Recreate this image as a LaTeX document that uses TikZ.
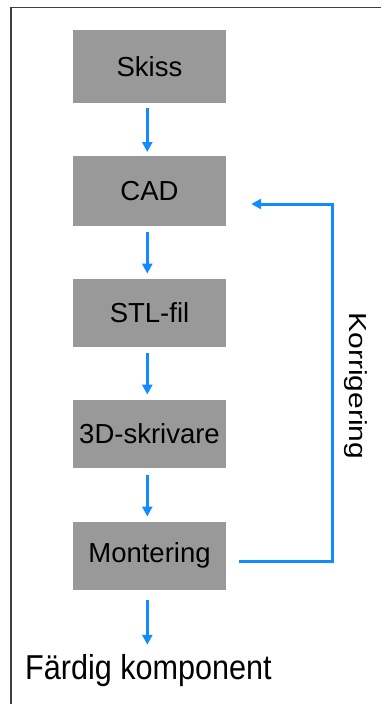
\documentclass[tikz,border=0pt]{standalone}
\usepackage{fontspec}
\setmainfont{Liberation Sans}
\usetikzlibrary{arrows.meta,calc}
\definecolor{flowblue}{RGB}{17,140,255}
\definecolor{boxgray}{RGB}{153,153,153}
\definecolor{framegray}{RGB}{64,64,64}
\begin{document}
\begin{tikzpicture}[x=1pt,y=-1pt,
  stepbox/.style={fill=boxgray,draw=none,minimum width=153pt,minimum height=68pt,inner sep=0pt,
    font=\fontsize{27.5}{30}\selectfont,text=black},
  flow/.style={draw=flowblue,line width=3pt,-{Triangle[length=10pt,width=10pt]}},
  fb/.style={draw=flowblue,line width=3pt}]
\useasboundingbox (0,0) rectangle (381,704);
\draw[framegray,line width=1.5pt] (11,704) -- (11,7.5) -- (381,7.5);
\node[stepbox,minimum height=72.7pt] (skiss) at (149.5,66.3) {Skiss};
\node[stepbox,minimum height=70pt] (cad) at (149.5,190.7) {CAD};
\node[stepbox] (stl) at (149.5,312.8) {STL-fil};
\node[stepbox] (print) at (149.5,433.8) {3D-skrivare};
\node[stepbox] (mont) at (149.5,555.7) {Montering};
\node[anchor=base,inner sep=0pt,font=\fontsize{30.6}{33}\selectfont] (final) at (148.5,679)
  {\scalebox{1}[1.13]{Färdig komponent}};
\node[anchor=base,inner sep=0pt,rotate=-90,font=\fontsize{30}{33}\selectfont] (korr) at (349,386)
  {\scalebox{1}[0.82]{Korrigering}};
\draw[flow] ($(skiss.south)+(-2.2,5)$) -- ($(cad.north)+(-2.2,-3.5)$);
\draw[flow] ($(cad.south)+(-2.2,6)$) -- ($(stl.north)+(-2.2,-5)$);
\draw[flow] ($(stl.south)+(-2.2,6)$) -- ($(print.north)+(-2.2,-5)$);
\draw[flow] ($(print.south)+(-2.2,7)$) -- ($(mont.north)+(-2.2,-5)$);
\draw[flow] ($(mont.south)+(-2.2,10)$) -- ($(final.north)+(-1.2,-9)$);
\coordinate (fbstart) at ($(mont.east)+(13,6)$);
\coordinate (fbend) at ($(cad.east)+(25,13.3)$);
\draw[fb,-{Triangle[length=10pt,width=10pt]}] (fbstart) -- (332,0 |- fbstart) -- (332,0 |- fbend) -- (fbend);
\end{tikzpicture}
\end{document}
